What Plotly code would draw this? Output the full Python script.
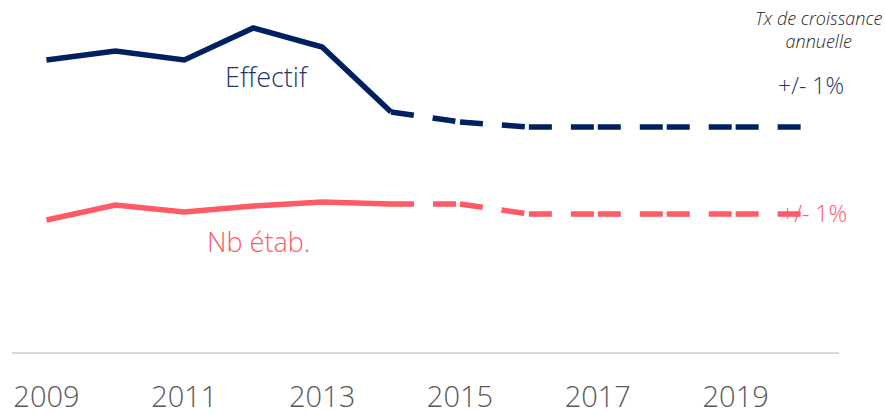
import plotly.graph_objects as go

years = [2009, 2010, 2011, 2012, 2013, 2014, 2015, 2016, 2017, 2018, 2019, 2020]
effectif = [292, 301, 292, 324, 305, 240, 230, 225, 225, 225, 225, 225]
nb_etab = [132, 147, 140, 146, 150, 148, 148, 138, 138, 138, 138, 138]
tick_years = [2009, 2011, 2013, 2015, 2017, 2019]
last_actual = 2014

NAVY = "#002060"
NAVY_TEXT = "#1F3669"
CORAL = "#FF5A66"

fig = go.Figure()

for vals, color in [(effectif, NAVY), (nb_etab, CORAL)]:
    k = years.index(last_actual)
    fig.add_trace(go.Scatter(x=years[:k + 1], y=vals[:k + 1], mode="lines",
                             line=dict(color=color, width=5.5), hoverinfo="skip",
                             showlegend=False))
    for i in range(k, len(years) - 1):
        fig.add_trace(go.Scatter(x=years[i:i + 2], y=vals[i:i + 2], mode="lines",
                                 line=dict(color=color, width=5.5, dash="23px,19px"),
                                 hoverinfo="skip", showlegend=False))

font_family = "Open Sans, Noto Sans, sans-serif"

fig.add_annotation(x=2012.2, y=276, text="Effectif", showarrow=False,
                   font=dict(size=27, color=NAVY_TEXT, family=font_family, weight=300))
fig.add_annotation(x=2012.08, y=111, text="Nb étab.", showarrow=False,
                   font=dict(size=27, color=CORAL, family=font_family, weight=300))
fig.add_annotation(x=2020.09, y=267, text="+/- 1%", showarrow=False,
                   font=dict(size=23, color=NAVY_TEXT, family=font_family, weight=300))
fig.add_annotation(x=2020.13, y=139, text="+/- 1%", showarrow=False,
                   font=dict(size=23, color=CORAL, family=font_family, weight=300))
fig.add_annotation(xref="paper", yref="paper", x=1.0555, y=1.0, yanchor="top",
                   xanchor="right", align="center", yshift=-4,
                   text="<i>Tx de croissance</i><br><i>annuelle</i>", showarrow=False,
                   font=dict(size=18, color="#262626", family=font_family, weight=300))

fig.update_layout(
    width=885, height=414,
    margin=dict(l=12, r=46, t=0, b=62, autoexpand=False),
    paper_bgcolor="white", plot_bgcolor="white",
    xaxis=dict(range=[2008.5, 2020.5], tickvals=tick_years,
               ticktext=[str(y) for y in tick_years],
               showgrid=False, zeroline=False, showline=True, automargin=False,
               linecolor="#D9D9D9", linewidth=2, ticks="",
               ticklabelstandoff=18,
               tickfont=dict(size=29, color="#595959", family=font_family, weight=300)),
    yaxis=dict(range=[0, 352], visible=False, showgrid=False, zeroline=False,
               automargin=False),
)

fig.write_html("out.html", config={"displayModeBar": False},
               post_script="document.body.style.margin='0';document.body.style.overflow='hidden';")
